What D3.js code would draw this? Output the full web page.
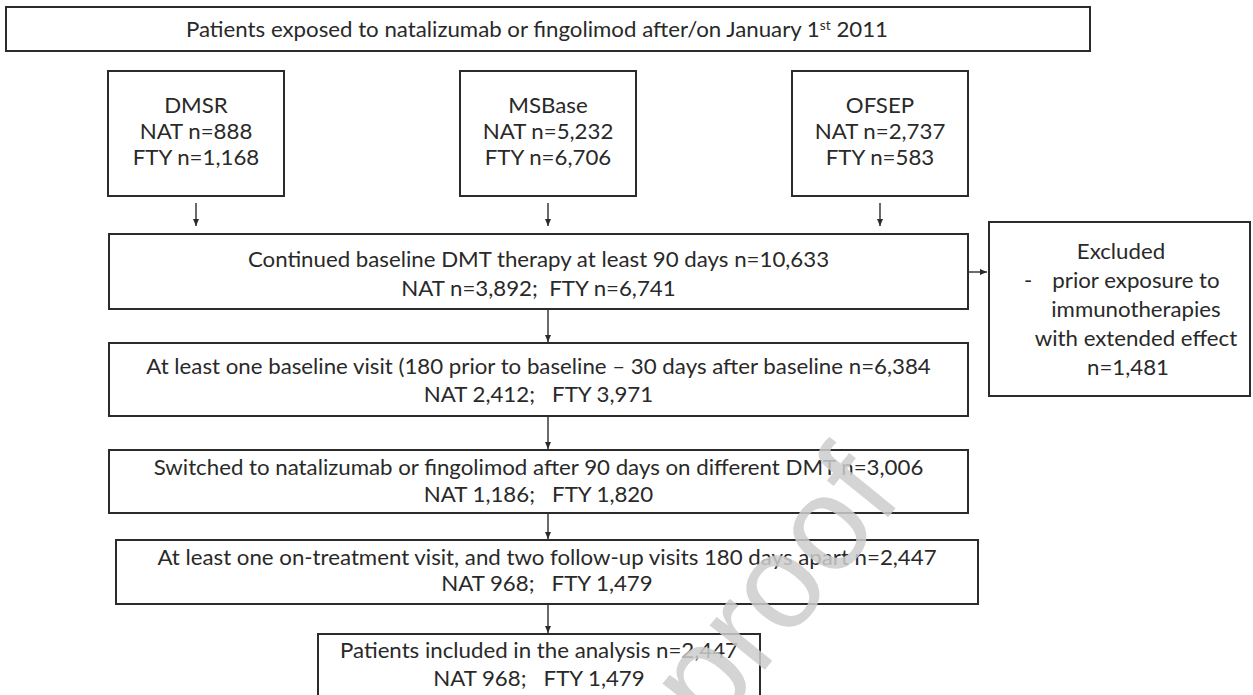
<!DOCTYPE html>
<html>
<head>
<meta charset="utf-8">
<script src="https://cdn.jsdelivr.net/npm/d3@7"></script>
<style>
  body { margin: 0; background: #fff; }
  svg { display: block; }
  text { font-family: Lato, "Noto Sans", sans-serif; fill: #292929; white-space: pre; }
</style>
</head>
<body>
<svg id="chart" width="1253" height="695"></svg>
<script>
/* DATA */
const titleText = "Patients exposed to natalizumab or fingolimod after/on January 1";
const titleSup = "st";
const titleEnd = " 2011";

const registries = ["DMSR", "MSBase", "OFSEP"];
const registryNat = [888, 5232, 2737];
const registryFty = [1168, 6706, 583];

const stepLabels = [
  "Continued baseline DMT therapy at least 90 days",
  "At least one baseline visit (180 prior to baseline \u2013 30 days after baseline",
  "Switched to natalizumab or fingolimod after 90 days on different DMT",
  "At least one on-treatment visit, and two follow-up visits 180 days apart",
  "Patients included in the analysis"
];
const stepTotals = [10633, 6384, 3006, 2447, 2447];
const stepNat = [3892, 2412, 1186, 968, 968];
const stepFty = [6741, 3971, 1820, 1479, 1479];
const stepShowN = [true, false, false, false, false];

const excludedLines = ["Excluded", "prior exposure to", "immunotherapies", "with extended effect"];
const excludedN = 1481;

/* LAYOUT */
const fs = 21;
const capHalf = 7.5;
const fmt = d3.format(",");
const svg = d3.select("#chart");
const stroke = "#2b2b2b";

const xReg = d3.scaleOrdinal().domain(registries).range([196, 548, 880]);
const regW = 176;
const regTop = 71, regBottom = 196;
const regLines = d3.scaleLinear().domain([0, 1]).range([105, 131]);

const stepBox = [
  { x0: 109, x1: 968, y0: 234, y1: 309, l1: 259, l2: 288 },
  { x0: 109, x1: 968, y0: 343, y1: 416, l1: 366, l2: 394 },
  { x0: 109, x1: 968, y0: 450, y1: 513, l1: 467, l2: 494 },
  { x0: 116, x1: 978, y0: 540, y1: 604, l1: 557, l2: 583 },
  { x0: 318, x1: 760, y0: 634, y1: 720, l1: 650, l2: 678 }
];
const mainX = 548;

// arrow head
svg.append("defs").append("marker")
  .attr("id", "head")
  .attr("markerUnits", "userSpaceOnUse")
  .attr("markerWidth", 8).attr("markerHeight", 8)
  .attr("refX", 7).attr("refY", 4)
  .attr("orient", "auto")
  .append("path")
  .attr("d", "M0,1 L7,4 L0,7 Z")
  .attr("fill", stroke);

function box(x0, y0, x1, y1) {
  svg.append("rect")
    .attr("x", x0).attr("y", y0)
    .attr("width", x1 - x0).attr("height", y1 - y0)
    .attr("fill", "none")
    .attr("stroke", stroke)
    .attr("stroke-width", 2);
}

function label(txt, x, capY, anchor = "middle") {
  return svg.append("text")
    .attr("class", "lbl")
    .attr("x", x)
    .attr("y", capY + capHalf)
    .attr("text-anchor", anchor)
    .attr("font-size", fs)
    .text(txt);
}

function arrow(x0, y0, x1, y1) {
  svg.append("line")
    .attr("x1", x0).attr("y1", y0)
    .attr("x2", x1).attr("y2", y1)
    .attr("stroke", stroke)
    .attr("stroke-width", 1.4)
    .attr("marker-end", "url(#head)");
}

// TOP BOX
box(6, 7, 1090, 51);
const t = label(titleText, 537, 29);
t.append("tspan").attr("font-size", 13).attr("dy", -7).text(titleSup);
t.append("tspan").attr("dy", 7).text(titleEnd);

// REGISTRY BOXES
registries.forEach((r, i) => {
  const cx = xReg(r);
  box(cx - regW / 2, regTop, cx + regW / 2, regBottom);
  label(r, cx, regLines(0));
  label(`NAT n=${fmt(registryNat[i])}`, cx, regLines(1));
  label(`FTY n=${fmt(registryFty[i])}`, cx, regLines(2));
  arrow(cx, 203, cx, 226);
});

// STEPS
stepLabels.forEach((s, i) => {
  const b = stepBox[i];
  const cx = (b.x0 + b.x1) / 2;
  box(b.x0, b.y0, b.x1, b.y1);
  label(`${s} n=${fmt(stepTotals[i])}`, cx, b.l1);
  const sub = stepShowN[i]
    ? `NAT n=${fmt(stepNat[i])};  FTY n=${fmt(stepFty[i])}`
    : `NAT ${fmt(stepNat[i])};   FTY ${fmt(stepFty[i])}`;
  label(sub, cx, b.l2);
  if (i < stepLabels.length - 1) {
    arrow(mainX, b.y1 + 1, mainX, stepBox[i + 1].y0 - 1);
  }
});

// EXCLUDED
box(989, 222, 1250, 396);
arrow(968, 272, 987, 272);
label(excludedLines[0], 1121, 251);
label("-", 1024, 280, "start");
label(excludedLines[1], 1136, 280);
label(excludedLines[2], 1136, 309);
label(excludedLines[3], 1136, 338);
label(`n=${fmt(excludedN)}`, 1128, 367);

// squeeze text to the narrow reference face
const refNode = svg.selectAll("text.lbl").filter(function () {
  return this.textContent.startsWith("Patients included");
}).node();
const k = 398 / refNode.getComputedTextLength();
svg.selectAll("text.lbl").each(function () {
  const w = this.getComputedTextLength();
  d3.select(this).attr("textLength", w * k).attr("lengthAdjust", "spacingAndGlyphs");
});

// watermark
svg.append("text")
  .attr("transform", "translate(712,735) rotate(-51)")
  .attr("font-size", 134)
  .style("font-family", "'Liberation Sans', Arial, sans-serif")
  .style("fill", "#cdcdcd")
  .attr("opacity", 0.85)
  .text("proof");
</script>
</body>
</html>
